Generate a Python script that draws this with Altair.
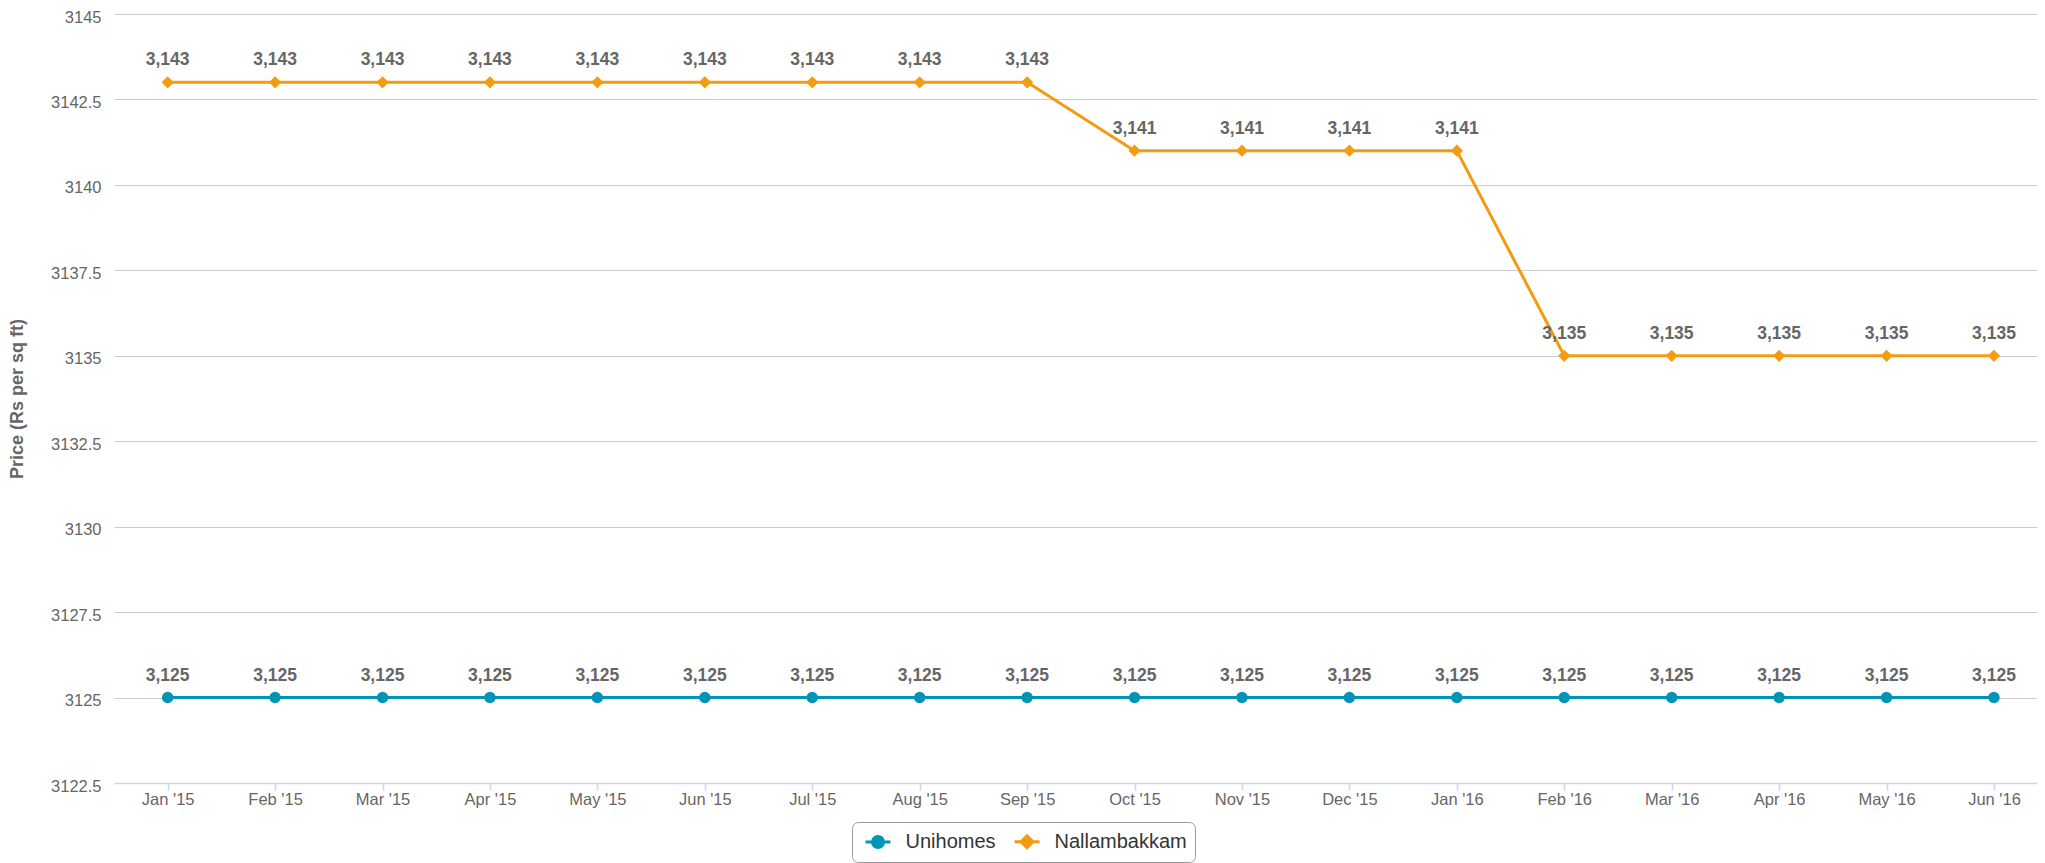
import altair as alt
import pandas as pd

months = ["Jan '15", "Feb '15", "Mar '15", "Apr '15", "May '15", "Jun '15",
          "Jul '15", "Aug '15", "Sep '15", "Oct '15", "Nov '15", "Dec '15",
          "Jan '16", "Feb '16", "Mar '16", "Apr '16", "May '16", "Jun '16"]
unihomes = [3125, 3125, 3125, 3125, 3125, 3125, 3125, 3125, 3125,
            3125, 3125, 3125, 3125, 3125, 3125, 3125, 3125, 3125]
nallambakkam = [3143, 3143, 3143, 3143, 3143, 3143, 3143, 3143, 3143,
                3141, 3141, 3141, 3141, 3135, 3135, 3135, 3135, 3135]
series_names = ["Unihomes", "Nallambakkam"]
series_colors = ["#0095b7", "#f39c12"]
y_ticks = [3122.5, 3125, 3127.5, 3130, 3132.5, 3135, 3137.5, 3140, 3142.5, 3145]

rows = []
for name, vals in zip(series_names, [unihomes, nallambakkam]):
    for m, v in zip(months, vals):
        rows.append({"month": m, "price": v, "series": name})
df = pd.DataFrame(rows)

FONT = "Liberation Sans"
H = 769

x_enc = alt.X("month:N", sort=months,
              scale=alt.Scale(type="point", padding=0.45, align=0.555),
              axis=alt.Axis(title=None, labelAngle=0, grid=False,
                            domainColor="#ccd6eb", domainWidth=1.5,
                            tickColor="#ccd6eb", tickSize=7, tickWidth=1.5,
                            labelFontSize=16.5, labelColor="#666666",
                            labelFont=FONT, labelPadding=1))
y_enc = alt.Y("price:Q",
              scale=alt.Scale(domain=[3122.5, 3145], nice=False, zero=False),
              axis=alt.Axis(title="Price (Rs per sq ft)", values=y_ticks,
                            labelExpr="'' + datum.value",
                            domain=False, ticks=False, grid=True,
                            gridColor="#cccccc", gridWidth=1,
                            labelFontSize=16.5, labelColor="#666666", labelFont=FONT,
                            labelPadding=13, labelOffset=3,
                            titleFont=FONT, titleFontSize=18, titleFontWeight="bold",
                            titleColor="#666666", titleX=-97, titleY=H / 2,
                            titleBaseline="middle"))
color_scale = alt.Scale(domain=series_names, range=series_colors)

base = alt.Chart(df).encode(x=x_enc, y=y_enc)

# legend symbols: a short line with the marker on it (unit coords scaled by sqrt(size)/2)
circle_path = "M-1.25,0L1.25,0M-0.55,0A0.55,0.55 0 1 0 0.55,0A0.55,0.55 0 1 0 -0.55,0Z"
diamond_path = "M-1.25,0L1.25,0M0,-0.6L0.6,0L0,0.6L-0.6,0Z"

legend = alt.Legend(orient="none", legendX=738, legendY=808, direction="horizontal",
                    title=None, strokeColor="#999999", cornerRadius=6, padding=8,
                    fillColor="white", labelFontSize=20, labelColor="#333333",
                    labelFont=FONT, symbolSize=400, symbolStrokeWidth=3,
                    symbolOpacity=1, symbolOffset=6.5, columnPadding=12,
                    labelOffset=16)

# layer that carries the legend; its own marks are tiny and hidden under the points
legend_layer = base.mark_point(filled=True, strokeWidth=1, size=1).encode(
    fill=alt.Fill("series:N", scale=color_scale, legend=legend),
    stroke=alt.Stroke("series:N", scale=color_scale, legend=legend),
    shape=alt.Shape("series:N", scale=alt.Scale(domain=series_names,
                                                range=[circle_path, diamond_path]),
                    legend=legend))

lines = base.mark_line(strokeWidth=3).encode(
    color=alt.Color("series:N", scale=color_scale, legend=None),
    detail="series:N")

pts_uni = base.transform_filter(alt.datum.series == "Unihomes").mark_point(
    filled=True, size=130, opacity=1, shape="circle").encode(
    color=alt.Color("series:N", scale=color_scale, legend=None))

pts_nal = base.transform_filter(alt.datum.series == "Nallambakkam").mark_point(
    filled=True, size=150, opacity=1, shape="diamond").encode(
    color=alt.Color("series:N", scale=color_scale, legend=None))

labels = base.mark_text(dy=-22, baseline="middle", align="center", fontSize=17.5,
                        fontWeight="bold", color="#666666", font=FONT).encode(
    text=alt.Text("price:Q", format=",.0f"))

chart = alt.layer(legend_layer, lines, pts_uni, pts_nal, labels).properties(
    width=1923, height=H,
    autosize=alt.AutoSizeParams(type="none"),
    padding={"left": 106, "top": 6, "right": 0, "bottom": 90},
    background="white"
).configure_view(stroke=None)

chart.save("out.html", embed_options={"renderer": "svg", "actions": False})
